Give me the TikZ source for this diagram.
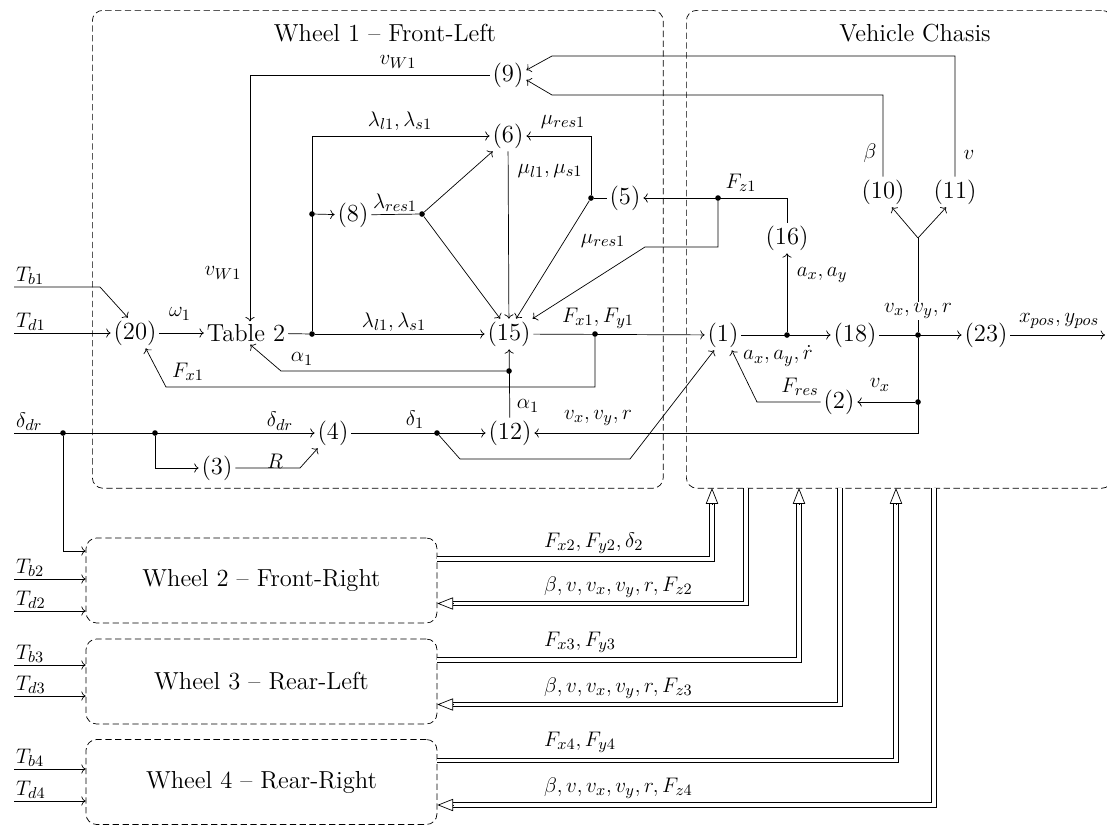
\documentclass[tikz,border=0pt]{standalone}
\usepackage{amsmath}
\usetikzlibrary{arrows.meta}
\DeclareMathSizes{14}{12}{9}{7}

\begin{document}
\begin{tikzpicture}[
    x=0.02cm, y=-0.02cm,
    every node/.style={font=\fontsize{14}{17}\selectfont},
    blk/.style={inner sep=1.5pt},
    lbl/.style={inner sep=1pt},
    lblw/.style={inner sep=1pt, fill=white},
    dot/.style={circle, fill, inner sep=0pt, minimum size=3.2pt},
    group/.style={draw, dash pattern=on 3.6pt off 2pt, rounded corners=6pt, anchor=north west, minimum height=9.56cm},
    wheel/.style={draw, dash pattern=on 3.6pt off 2pt, rounded corners=6pt, minimum width=7.02cm, minimum height=1.7cm},
    arrow/.style={->},
    dbl/.style={double, double distance=2.2pt},
    hollow/.style={-{Triangle[open, length=9pt, width=7pt]}}
  ]
    \useasboundingbox (0,0) rectangle (1107,825);

    % groups
    \node[group, minimum width=11.42cm] (wheel1) at (92,10) {};
    \node[group, minimum width=8.52cm] (chassis) at (686,10) {};
    \node[lbl] (tW1) at (385,33) {Wheel 1 -- Front-Left};
    \node[lbl] (tCh) at (915,33) {Vehicle Chasis};
    \node[wheel] (w2) at (261.5,580.5) {Wheel 2 -- Front-Right};
    \node[wheel] (w3) at (261.5,681.5) {Wheel 3 -- Rear-Left};
    \node[wheel] (w4) at (261.5,782) {Wheel 4 -- Rear-Right};

    % blocks
    \node[blk] (n9) at (508,75) {(9)};
    \node[blk] (n6) at (508,136) {(6)};
    \node[blk] (n8) at (353,215) {(8)};
    \node[blk] (n5) at (625,198) {(5)};
    \node[blk] (n15) at (509,334) {(15)};
    \node[blk] (tab) at (246,333) {Table 2};
    \node[blk] (n20) at (135,333) {(20)};
    \node[blk] (n4) at (333,433) {(4)};
    \node[blk] (n3) at (217,468) {(3)};
    \node[blk] (n12) at (510,433) {(12)};
    \node[blk] (n1) at (723,335) {(1)};
    \node[blk] (n18) at (855,335) {(18)};
    \node[blk] (n23) at (986,335) {(23)};
    \node[blk] (n2) at (839,402) {(2)};
    \node[blk] (n16) at (787,238) {(16)};
    \node[blk] (n10) at (883,192) {(10)};
    \node[blk] (n11) at (955,192) {(11)};

    % junctions
    \node[dot] (dTab) at (312,334) {};
    \node[dot] (dL8) at (312,214) {};
    \node[dot] (dR8) at (422,214) {};
    \node[dot] (d5) at (591,198) {};
    \node[dot] (dFz) at (718,198) {};
    \node[dot] (dF) at (595,334) {};
    \node[dot] (dA) at (509,371) {};
    \node[dot] (dDl) at (437,433) {};
    \node[dot] (dDr1) at (63,433) {};
    \node[dot] (dDr2) at (155,433) {};
    \node[dot] (dAx) at (787,335) {};
    \node[dot] (dV) at (918,335) {};
    \node[dot] (dVx) at (918,402) {};

    \coordinate (inTb1) at (14,287);
    \coordinate (inTd1) at (14,333);
    \coordinate (inDr) at (14,433);
    \coordinate (outPos) at (1105,335);
    \coordinate (fork) at (918,238);

    % wheel 1
    \draw[arrow] (n9.west) -| ([xshift=0.08cm]tab.north);
    \draw[arrow] (n20) -- (tab);
    \draw (tab) -- (dTab);
    \draw[arrow] (dTab) -- (n15);
    \draw[arrow] (dTab) |- (n6.west);
    \draw[arrow] (dL8) -- (n8);
    \draw (n8) -- (dR8);
    \draw[arrow] (dR8) -- (n6.-135);
    \draw[arrow] (dR8) -- (n15.120);
    \draw[arrow] (n6) -- (n15);
    \draw (n5) -- (d5);
    \draw[arrow] (d5) |- (n6.east);
    \draw[arrow] (d5) -- (n15.65);
    \draw[arrow] (n16.north) |- (n5.east);
    \draw[arrow] (dFz) |- (645,247) -- (n15.33);
    \draw[arrow] (n15) -- (n1);
    \draw[arrow] (dF) |- (166,387) -- (n20.-55);
    \draw[arrow] (n12) -- (n15);
    \draw[arrow] (dA) -- (281,371) -- (tab.-70);
    \draw[arrow] (n4) -- (n12);
    \draw[arrow] (dDl) -- (460,459) -- (630,459) -- (n1.-120);
    \draw[arrow] (inDr) -- (n4);
    \draw[arrow] (dDr2) |- (n3);
    \draw[arrow] (n3) -- (300,468) -- (n4.-135);
    \draw[arrow] (dDr1) |- ([yshift=0.59cm]w2.west);
    \draw[arrow] (inTd1) -- (n20);
    \draw[arrow] (inTb1) -- (100,287) -- (n20.115);

    % chassis
    \draw[arrow] (n1) -- (n18);
    \draw[arrow] (dAx) -- (n16);
    \draw[arrow] (n18) -- (n23);
    \draw[arrow] (n23) -- (outPos);
    \draw (dV) -- (fork);
    \draw[arrow] (fork) -- (n10.-60);
    \draw[arrow] (fork) -- (n11.-120);
    \draw[arrow] (n10.north) |- (552,95) -- (n9.-15);
    \draw[arrow] (n11.north) |- (552,56) -- (n9.15);
    \draw[arrow] (dVx) -- (n2);
    \draw[arrow] (n2) -- (757,402) -- (n1.-60);
    \draw[arrow] (dV) |- (n12);

    % labels
    \node[lbl] (lVw1) at (398,62) {$v_{W1}$};
    \node[lbl] (lVw2) at (223,273) {$v_{W1}$};
    \node[lbl] (lLam1) at (400,121) {$\lambda_{l1},\lambda_{s1}$};
    \node[lbl] (lMu1) at (563,122) {$\mu_{res1}$};
    \node[lbl] (lLamR) at (395,203) {$\lambda_{res1}$};
    \node[lbl] (lMuLS) at (550,171) {$\mu_{l1},\mu_{s1}$};
    \node[lbl] (lMu2) at (603,241) {$\mu_{res1}$};
    \node[lbl] (lLam2) at (394,322) {$\lambda_{l1},\lambda_{s1}$};
    \node[lbl] (lFxy) at (598,318) {$F_{x1},F_{y1}$};
    \node[lbl] (lFz) at (741,183) {$F_{z1}$};
    \node[lbl] (lBeta) at (870,153) {$\beta$};
    \node[lbl] (lV) at (969,155) {$v$};
    \node[lbl] (lAxy) at (822,275) {$a_x,a_y$};
    \node[lbl] (lAxyr) at (778,356) {$a_x,a_y,\dot{r}$};
    \node[lblw] (lVxyr1) at (918,311) {$v_x,v_y,r$};
    \node[lbl] (lPos) at (1059,321) {$x_{pos},y_{pos}$};
    \node[lbl] (lVx) at (880,385) {$v_x$};
    \node[lbl] (lFres) at (800,387) {$F_{res}$};
    \node[lbl] (lVxyr2) at (598,418) {$v_x,v_y,r$};
    \node[lbl] (lAl1) at (528,406) {$\alpha_1$};
    \node[lbl] (lDel1) at (415,420) {$\delta_1$};
    \node[lbl] (lAl2) at (302,359) {$\alpha_1$};
    \node[lbl] (lFx) at (188,372) {$F_{x1}$};
    \node[lbl] (lOm) at (180,314) {$\omega_1$};
    \node[lbl] (lDr2) at (280,421) {$\delta_{dr}$};
    \node[lbl] (lR) at (275,461) {$R$};
    \node[lbl, anchor=south west] (lTb1) at (inTb1) {$T_{b1}$};
    \node[lbl, anchor=south west] (lTd1) at (inTd1) {$T_{d1}$};
    \node[lbl, anchor=south west] (lDr1) at (inDr) {$\delta_{dr}$};

    % wheels 2-4 inputs
    \foreach \w/\yb/\yd in {2/579/611, 3/665/696, 4/769/801} {
      \coordinate (inTb\w) at (14,\yb);
      \coordinate (inTd\w) at (14,\yd);
      \draw[arrow] (inTb\w) -- (inTb\w -| w\w.west);
      \draw[arrow] (inTd\w) -- (inTd\w -| w\w.west);
      \node[lbl, anchor=south west] (lTb\w) at (inTb\w) {$T_{b\w}$};
      \node[lbl, anchor=south west] (lTd\w) at (inTd\w) {$T_{d\w}$};
    }

    % wheels 2-4 to chassis
    \foreach \w/\xo/\xi in {2/712/746, 3/799/840, 4/896/934} {
      \coordinate (cpo\w) at (\xo,488);
      \coordinate (cpi\w) at (\xi,488);
      \draw[dbl, shorten >=9pt] ([yshift=0.43cm]w\w.east) -| (cpo\w);
      \draw[hollow] ([yshift=-9pt]cpo\w) -- (cpo\w);
      \draw[dbl, shorten >=9pt] (cpi\w) |- ([yshift=-0.46cm]w\w.east);
      \draw[hollow] ([xshift=9pt,yshift=-0.46cm]w\w.east) -- ([yshift=-0.46cm]w\w.east);
    }
    \node[lbl, anchor=west] (lOut2) at (542,543) {$F_{x2},F_{y2},\delta_2$};
    \node[lbl, anchor=west] (lIn2) at (542,587) {$\beta,v,v_x,v_y,r,F_{z2}$};
    \node[lbl, anchor=west] (lOut3) at (542,642) {$F_{x3},F_{y3}$};
    \node[lbl, anchor=west] (lIn3) at (542,688) {$\beta,v,v_x,v_y,r,F_{z3}$};
    \node[lbl, anchor=west] (lOut4) at (542,742) {$F_{x4},F_{y4}$};
    \node[lbl, anchor=west] (lIn4) at (542,788) {$\beta,v,v_x,v_y,r,F_{z4}$};
  \end{tikzpicture}
\end{document}
